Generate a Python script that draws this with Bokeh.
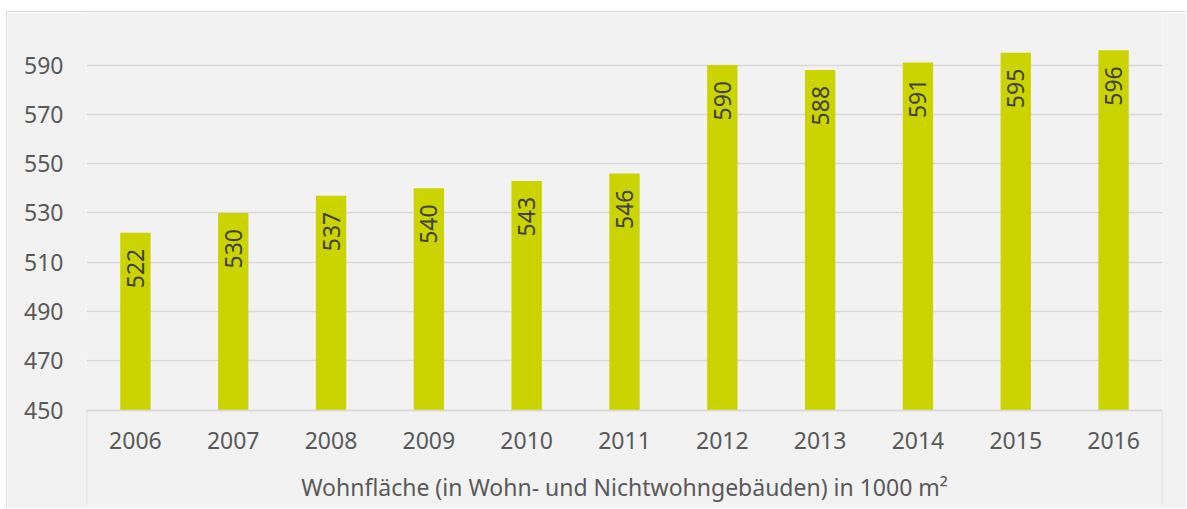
from math import pi

from bokeh.core.properties import value
from bokeh.embed import file_html
from bokeh.models import ColumnDataSource, FactorRange, FixedTicker, Range1d
from bokeh.plotting import figure
from bokeh.resources import INLINE

# ---- data ----
years = ["2006", "2007", "2008", "2009", "2010", "2011",
         "2012", "2013", "2014", "2015", "2016"]
values = [522, 530, 537, 540, 543, 546, 590, 588, 591, 595, 596]
y_ticks = [450, 470, 490, 510, 530, 550, 570, 590]
x_title = "Wohnfläche (in Wohn- und Nichtwohngebäuden) in 1000 m²"

# ---- style ----
BG = "#f2f2f2"
GRID = "#d9d9d9"
BAR = "#cbd400"
TXT = "#595959"
LBL = "#404040"
FONT = "Noto Sans"
FS = "23px"

src = ColumnDataSource(dict(year=years, value=values,
                            label=[str(v) for v in values]))

p = figure(
    x_range=FactorRange(*years),
    y_range=Range1d(411.8, 611.3),
    width=1180, height=497,
    min_border_left=79, min_border_right=25,
    min_border_top=0, min_border_bottom=5,
    output_backend="svg", toolbar_location=None,
    background_fill_color=BG, border_fill_color=BG,
    outline_line_color=None,
)
p.styles = {"margin-left": "6px", "margin-top": "11px",
            "border-left": "1px solid #d9d9d9",
            "border-top": "1px solid #d9d9d9"}

base = y_ticks[0]
p.vbar(x="year", top="value", bottom=base, width=0.31, source=src,
       fill_color=BAR, line_color=None)

p.text(x="year", y="value", text="label", source=src, angle=pi / 2,
       text_align="right", text_baseline="middle", y_offset=16,
       text_font=value(FONT), text_font_size=FS, text_color=LBL)

# frame lines below the category axis
p.segment(x0=[0, len(years)], x1=[0, len(years)],
          y0=[base, base], y1=[p.y_range.start, p.y_range.start],
          line_color=GRID, line_width=1.5)

# y axis
p.yaxis.ticker = FixedTicker(ticks=y_ticks)
p.yaxis.axis_line_color = None
p.yaxis.major_tick_line_color = None
p.yaxis.major_tick_out = 0
p.yaxis.major_tick_in = 0
p.yaxis.minor_tick_line_color = None
p.yaxis.major_label_standoff = 23
p.yaxis.major_label_text_font = FONT
p.yaxis.major_label_text_font_size = FS
p.yaxis.major_label_text_color = TXT

p.ygrid.grid_line_color = GRID
p.ygrid.grid_line_width = 1.5
p.xgrid.grid_line_color = None

# x axis
p.xaxis.fixed_location = base
p.xaxis.axis_line_color = GRID
p.xaxis.axis_line_width = 1.5
p.xaxis.major_tick_line_color = None
p.xaxis.minor_tick_line_color = None
p.xaxis.major_label_standoff = 16
p.xaxis.major_label_text_font = FONT
p.xaxis.major_label_text_font_size = FS
p.xaxis.major_label_text_color = TXT
p.xaxis.axis_label = x_title
p.xaxis.axis_label_standoff = 18
p.xaxis.axis_label_text_font = FONT
p.xaxis.axis_label_text_font_size = FS
p.xaxis.axis_label_text_font_style = "normal"
p.xaxis.axis_label_text_color = TXT

open("out.html", "w").write(file_html(p, INLINE))
